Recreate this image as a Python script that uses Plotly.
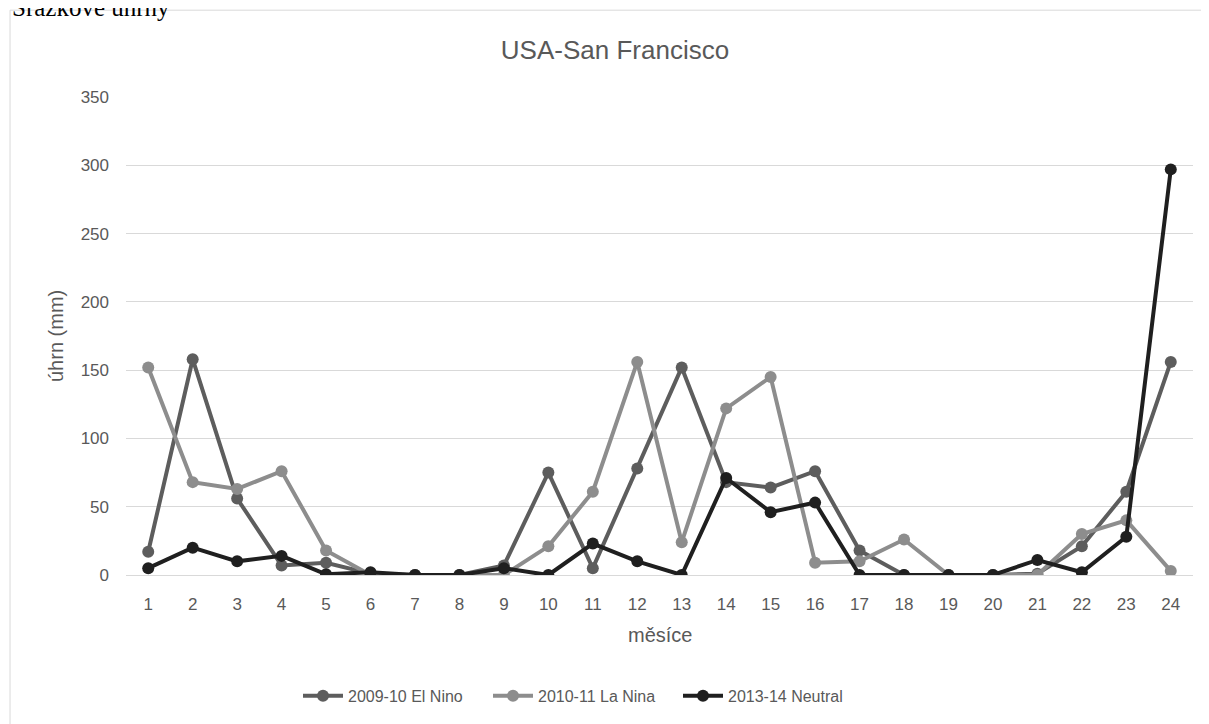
import plotly.graph_objects as go

months = [str(m) for m in range(1, 25)]

el_nino = [17, 158, 56, 7, 9, 1, 0, 0, 7, 75, 5, 78, 152, 68, 64, 76,
           18, 0, 0, 0, 1, 21, 61, 156]
la_nina = [152, 68, 63, 76, 18, 0, 0, 0, 0, 21, 61, 156, 24, 122, 145, 9,
           10, 26, 0, 0, 0, 30, 40, 3]
neutral = [5, 20, 10, 14, 0.5, 2, 0, 0, 5, 0, 23, 10, 0, 71, 46, 53,
           0, 0, 0, 0, 11, 2, 28, 297]

series = [
    ("2009-10 El Nino", el_nino, "#5d5d5d"),
    ("2010-11 La Nina", la_nina, "#8d8d8d"),
    ("2013-14 Neutral", neutral, "#1f1f1f"),
]

TXT = "#595959"
GRID = "#d9d9d9"

fig = go.Figure()
for name, vals, color in series:
    fig.add_trace(go.Scatter(
        x=months, y=vals, name=name,
        mode="lines+markers",
        line=dict(color=color, width=4),
        marker=dict(color=color, size=12),
    ))

# page body has an 8px margin, so the figure is sized 8px smaller
fig.update_layout(
    width=1201, height=716,
    margin=dict(l=118, r=16, t=89, b=148),
    plot_bgcolor="white", paper_bgcolor="white",
    font=dict(family="Liberation Sans, Arial, sans-serif", color=TXT, size=17),
    title=dict(text="USA-San Francisco", x=0.5054, xref="container", xanchor="center",
               y=0.9413, yref="container", yanchor="middle",
               font=dict(size=26, color=TXT)),
    showlegend=True,
    legend=dict(orientation="h", x=0.1612, xanchor="left", xref="paper",
                y=-0.25, yanchor="middle",
                font=dict(size=16, color=TXT),
                itemwidth=40, entrywidth=135, tracegroupgap=0),
)

fig.update_xaxes(
    type="category", range=[-0.5, 23.5], automargin=False,
    showgrid=False, showline=True, linecolor=GRID,
    ticks="", ticklabelstandoff=14, tickfont=dict(size=17, color=TXT),
)
fig.update_yaxes(
    range=[0, 350], dtick=50, automargin=False,
    showgrid=True, gridcolor=GRID, gridwidth=1,
    zeroline=False, showline=False, ticks="", ticklabelstandoff=16,
    tickfont=dict(size=17, color=TXT),
)

# axis titles
fig.add_annotation(text="měsíce", xref="paper", yref="paper", x=0.5, y=-0.125,
                   xanchor="center", yanchor="middle", showarrow=False,
                   font=dict(size=20, color=TXT))
fig.add_annotation(text="úhrn (mm)", xref="paper", yref="paper", x=-0.0656, y=0.5,
                   xanchor="center", yanchor="middle", textangle=-90, showarrow=False,
                   font=dict(size=20, color=TXT))

# chart frame border (cut off at the right and bottom like the source)
fig.add_shape(type="rect", xref="paper", yref="paper",
              x0=-0.1087, x1=1.2, y0=-0.5, y1=1.1816,
              line=dict(color=GRID, width=1), layer="below")

# document heading above the chart, clipped at the top edge as in the source
fig.add_annotation(text="Srážkové úhrny", xref="paper", yref="paper",
                   x=-0.1087, y=1.1553, xanchor="left", yanchor="bottom",
                   showarrow=False,
                   font=dict(family="Liberation Serif, Times New Roman, serif",
                             size=25, color="#000000"))

fig.write_html("out.html")
